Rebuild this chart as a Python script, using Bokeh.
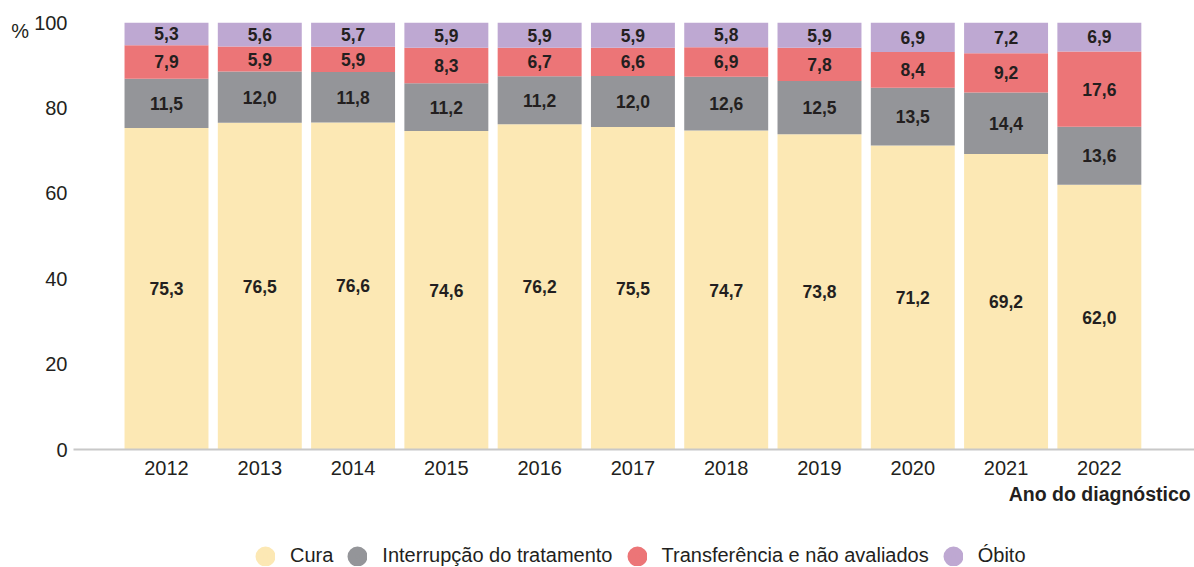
from bokeh.plotting import figure
from bokeh.layouts import column
from bokeh.models import ColumnDataSource, FixedTicker, Label, Legend, LegendItem, Range1d
from bokeh.core.properties import value
from bokeh.embed import file_html
from bokeh.resources import INLINE

years = ["2012", "2013", "2014", "2015", "2016", "2017", "2018", "2019", "2020", "2021", "2022"]
cura = [75.3, 76.5, 76.6, 74.6, 76.2, 75.5, 74.7, 73.8, 71.2, 69.2, 62.0]
interrupcao = [11.5, 12.0, 11.8, 11.2, 11.2, 12.0, 12.6, 12.5, 13.5, 14.4, 13.6]
transferencia = [7.9, 5.9, 5.9, 8.3, 6.7, 6.6, 6.9, 7.8, 8.4, 9.2, 17.6]
obito = [5.3, 5.6, 5.7, 5.9, 5.9, 5.9, 5.8, 5.9, 6.9, 7.2, 6.9]
series_names = ["Cura", "Interrupção do tratamento", "Transferência e não avaliados", "Óbito"]
colors = ["#fce8b4", "#949599", "#ec7577", "#bea8d2"]
y_ticks = [0, 20, 40, 60, 80, 100]

SANS = "Liberation Sans"
TXT = "#231f20"
X0, X1 = -0.997, 11.02
W = 1194
H1, H2 = 480, 87

p = figure(width=W, height=H1, output_backend="svg", toolbar_location=None,
           x_range=Range1d(X0, X1), y_range=Range1d(0, 100),
           min_border_left=73, min_border_right=0, min_border_top=22, min_border_bottom=31)
p.outline_line_color = None
p.xgrid.visible = False
p.ygrid.visible = False
p.background_fill_color = "white"

xs = list(range(len(years)))
series = [cura, interrupcao, transferencia, obito]
bottom = [0.0] * len(years)
for name, vals, col in zip(series_names, series, colors):
    top = [b + v for b, v in zip(bottom, vals)]
    src = ColumnDataSource(dict(x=xs, bottom=bottom, top=top,
                                mid=[(b + t) / 2 for b, t in zip(bottom, top)],
                                lab=[f"{v:.1f}".replace(".", ",") for v in vals]))
    p.vbar(x="x", bottom="bottom", top="top", width=0.9, source=src,
           fill_color=col, line_color=None)
    p.text(x="x", y="mid", text="lab", source=src, text_align="center",
           text_baseline="middle", text_font=value(SANS), text_font_style="bold",
           text_font_size="17.5px", text_color=TXT)
    bottom = top

# axes
p.xaxis.ticker = FixedTicker(ticks=xs)
p.xaxis.major_label_overrides = {i: y for i, y in enumerate(years)}
p.xaxis.axis_line_color = "#c8c8c8"
p.xaxis.axis_line_width = 2
p.xaxis.major_tick_line_color = None
p.xaxis.minor_tick_line_color = None
p.xaxis.major_label_standoff = 5
p.xaxis.major_label_text_font = SANS
p.xaxis.major_label_text_font_size = "20px"
p.xaxis.major_label_text_color = TXT

yax = p.yaxis[0]
yax.ticker = FixedTicker(ticks=y_ticks)
yax.axis_line_color = None
yax.major_tick_line_color = None
yax.minor_tick_line_color = None
yax.major_label_standoff = 0
yax.major_label_text_font = SANS
yax.major_label_text_font_size = "20px"
yax.major_label_text_color = TXT
yax.axis_label = "\n%"
yax.axis_label_orientation = "horizontal"
yax.axis_label_align = "end"
yax.axis_label_standoff = 2
yax.axis_label_text_font = SANS
yax.axis_label_text_font_size = "20px"
yax.axis_label_text_line_height = 0.8
yax.axis_label_text_font_style = "normal"
yax.axis_label_text_color = TXT

# lower strip: axis title + legend
p2 = figure(width=W, height=H2, output_backend="svg", toolbar_location=None,
            x_range=Range1d(0, W), y_range=Range1d(0, H2),
            x_axis_location=None, y_axis_location=None,
            min_border_left=0, min_border_right=0, min_border_top=0, min_border_bottom=0)
p2.outline_line_color = None
p2.xgrid.visible = False
p2.ygrid.visible = False

p2.add_layout(Label(x=W - 4, y=H2 - 13, text="Ano do diagnóstico", text_font=SANS,
                    text_font_style="bold", text_font_size="19.5px", text_color=TXT,
                    text_baseline="middle", text_align="right"))

nan = float("nan")
renderers = []
for col in colors:
    r = p2.scatter(x=[nan], y=[nan], marker="circle", size=8, fill_color=col,
                   line_color=col, line_width=12)
    renderers.append(r)

legend = Legend(items=[LegendItem(label=n, renderers=[r]) for n, r in zip(series_names, renderers)],
                orientation="horizontal", location=(182, 0),
                glyph_width=20, glyph_height=20, label_standoff=15, spacing=14,
                label_height=20, padding=0, margin=0, border_line_color=None,
                background_fill_alpha=0,
                label_text_font=SANS, label_text_font_size="20px", label_text_color=TXT)
p2.add_layout(legend, "center")

layout = column(p, p2, spacing=0)
open("out.html", "w").write(file_html(layout, INLINE))
